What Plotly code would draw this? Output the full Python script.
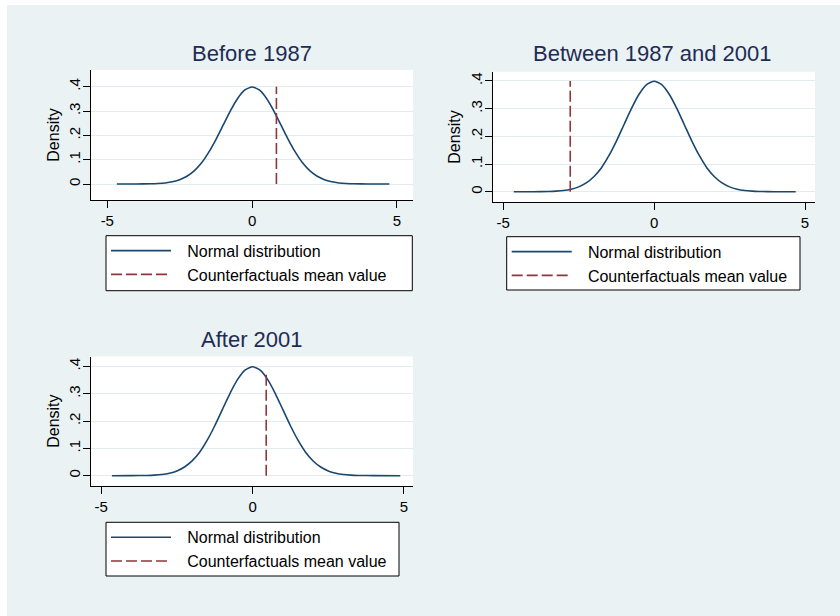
import plotly.graph_objects as go

W, H = 840, 616

# ---------------- data ----------------
TITLES = ["Before 1987", "Between 1987 and 2001", "After 2001"]
SERIES_NAMES = ["Normal distribution", "Counterfactuals mean value"]

# density curve (same shape in all three panels)
DENS_X = [-4.0, -3.5, -3.25, -3.0, -2.75, -2.5, -2.25, -2.0, -1.75, -1.5, -1.25, -1.0,
          -0.75, -0.5, -0.25, 0.0, 0.25, 0.5, 0.75, 1.0, 1.25, 1.5, 1.75, 2.0, 2.25,
          2.5, 2.75, 3.0, 3.25, 3.5, 4.0]
DENS_Y = [0.0001, 0.0009, 0.002, 0.0044, 0.0091, 0.0175, 0.0317, 0.054, 0.086, 0.130,
          0.183, 0.242, 0.301, 0.352, 0.387, 0.399, 0.387, 0.352, 0.301, 0.242, 0.183,
          0.130, 0.086, 0.054, 0.0317, 0.0175, 0.0091, 0.0044, 0.002, 0.0009, 0.0001]
X_MIN = [-4.67, -4.65, -4.65]      # left end of each curve
X_MAX = [4.74, 4.69, 4.88]         # right end of each curve
CF_MEAN = [0.84, -2.78, 0.45]      # counterfactual mean value (dashed line)
CF_TOP = [0.40, 0.40, 0.38]        # height of dashed line

X_TICKS = [-5, 0, 5]
X_TICKTEXT = ["-5", "0", "5"]
Y_TICKS = [0, 0.1, 0.2, 0.3, 0.4]
Y_TICKTEXT = ["0", ".1", ".2", ".3", ".4"]

# ---------------- layout (pixels) ----------------
PLOT_BOX = [(91, 70, 413, 200), (492.5, 71.7, 815, 202.3), (91, 356.5, 413, 485.7)]
X_RANGE = [(-5.563, 5.557), (-5.356, 5.33), (-5.34, 5.3)]
Y_RANGE = [(-0.0658, 0.469), (-0.0382, 0.4335), (-0.0367, 0.4367)]
LEG_BOX = [(106, 235.7, 412.3, 290.7), (506.7, 236.7, 800, 290), (106, 522.3, 399, 576)]
TITLE_POS = [(252, 53.5), (652.5, 53.5), (251.5, 339.5)]

BG = "#EAF2F3"
NAVY = "#1A476F"
MAROON = "#90353B"
TITLE_COL = "#1E2C55"
GRID = "#E2ECEF"
FONT = "Liberation Sans, Arial, sans-serif"
LEG_PAD = "\u2002\u2009"   # small gap between legend key and label

def px(x):
    return x / W

def py(y):
    return 1 - y / H

fig = go.Figure()
shapes = []
annotations = []
layout = {}

for i in range(3):
    ax = "" if i == 0 else str(i + 1)
    xa, ya = "x" + ax, "y" + ax
    leg = "legend" + ax
    cx = [X_MIN[i]] + DENS_X + [X_MAX[i]]
    cy = [0.0] + DENS_Y + [0.0]
    fig.add_trace(go.Scatter(
        x=cx, y=cy, mode="lines", name=LEG_PAD + SERIES_NAMES[0],
        line=dict(color=NAVY, width=1.6, shape="spline", smoothing=0.6),
        xaxis=xa, yaxis=ya, legend=leg, showlegend=True, hoverinfo="skip"))
    fig.add_trace(go.Scatter(
        x=[CF_MEAN[i], CF_MEAN[i]], y=[0, CF_TOP[i]], mode="lines",
        name=LEG_PAD + SERIES_NAMES[1],
        line=dict(color=MAROON, width=1.6, dash="11px,4px"),
        xaxis=xa, yaxis=ya, legend=leg, showlegend=True, hoverinfo="skip"))

    l, t, r, b = PLOT_BOX[i]
    layout["xaxis" + ax] = dict(
        domain=[px(l), px(r)], range=list(X_RANGE[i]), anchor=ya,
        tickvals=X_TICKS, ticktext=X_TICKTEXT, ticks="outside", ticklen=7, tickwidth=1,
        tickcolor="black", showline=True, linecolor="black", linewidth=1,
        showgrid=False, zeroline=False, tickfont=dict(size=15, color="black", family=FONT))
    layout["yaxis" + ax] = dict(
        domain=[py(b), py(t)], range=list(Y_RANGE[i]), anchor=xa,
        tickvals=Y_TICKS, ticktext=Y_TICKTEXT, ticks="outside", ticklen=7, tickwidth=1,
        tickcolor="black", showline=True, linecolor="black", linewidth=1,
        showgrid=True, gridcolor=GRID, gridwidth=1, zeroline=False, tickangle=-90,
        ticklabelstandoff=-3,
        tickfont=dict(size=15, color="black", family=FONT),
        title=dict(text="Density", font=dict(size=16, color="black", family=FONT), standoff=2))

    ll, lt, lr, lb = LEG_BOX[i]
    layout[leg] = dict(
        x=px(ll), y=py(lt - 2), xanchor="left", yanchor="top",
        bgcolor="rgba(0,0,0,0)", borderwidth=0, itemwidth=60,
        font=dict(size=16, color="black", family=FONT), tracegroupgap=0,
        itemclick=False, itemdoubleclick=False)
    shapes.append(dict(type="rect", xref="paper", yref="paper",
                       x0=px(ll), x1=px(lr), y0=py(lb), y1=py(lt),
                       line=dict(color="black", width=1), fillcolor="white", layer="below"))

    tx, ty = TITLE_POS[i]
    annotations.append(dict(text=TITLES[i], x=px(tx), y=py(ty), xref="paper", yref="paper",
                            xanchor="center", yanchor="middle", showarrow=False,
                            font=dict(size=22, color=TITLE_COL, family=FONT)))

# white border strips at top and left of the image
shapes.append(dict(type="rect", xref="paper", yref="paper", x0=0, x1=px(7), y0=0, y1=1,
                   line=dict(width=0), fillcolor="white", layer="below"))
shapes.append(dict(type="rect", xref="paper", yref="paper", x0=0, x1=1, y0=py(5), y1=1,
                   line=dict(width=0), fillcolor="white", layer="below"))

fig.update_layout(
    width=W, height=H, margin=dict(l=0, r=0, t=0, b=0),
    paper_bgcolor=BG, plot_bgcolor="white",
    font=dict(family=FONT, color="black"),
    shapes=shapes, annotations=annotations, **layout)

fig.write_html("out.html", config={"displayModeBar": False},
               post_script="document.body.style.margin='0';document.body.style.overflow='hidden';")
